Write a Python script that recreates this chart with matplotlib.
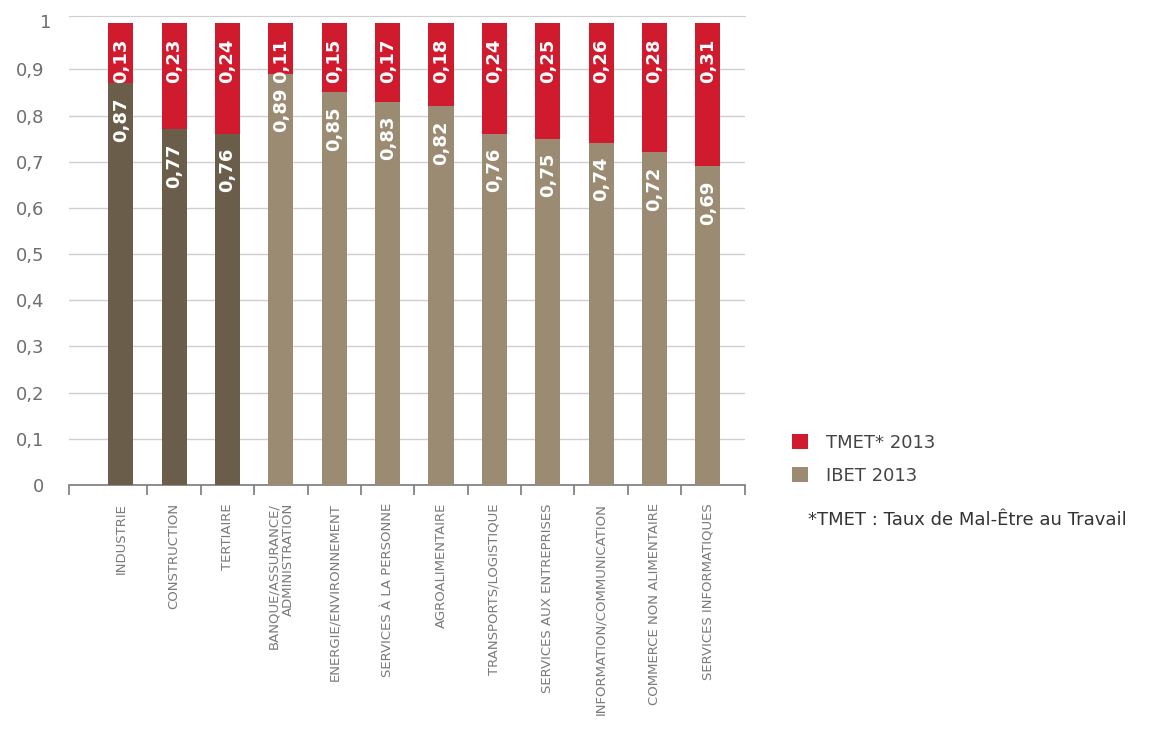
import matplotlib.pyplot as plt
from matplotlib.patches import Patch

# Data
secteurs = [
    "INDUSTRIE",
    "CONSTRUCTION",
    "TERTIAIRE",
    "BANQUE/ASSURANCE/\nADMINISTRATION",
    "ENERGIE/ENVIRONNEMENT",
    "SERVICES À LA PERSONNE",
    "AGROALIMENTAIRE",
    "TRANSPORTS/LOGISTIQUE",
    "SERVICES AUX ENTREPRISES",
    "INFORMATION/COMMUNICATION",
    "COMMERCE NON ALIMENTAIRE",
    "SERVICES INFORMATIQUES",
]
ibet = [0.87, 0.77, 0.76, 0.89, 0.85, 0.83, 0.82, 0.76, 0.75, 0.74, 0.72, 0.69]
tmet = [0.13, 0.23, 0.24, 0.11, 0.15, 0.17, 0.18, 0.24, 0.25, 0.26, 0.28, 0.31]
y_ticks = [0, 0.1, 0.2, 0.3, 0.4, 0.5, 0.6, 0.7, 0.8, 0.9, 1]

red = "#d01a2e"
dark = "#6a5d4a"
light = "#9a8b72"
grey_txt = "#6e6e6e"

fig = plt.figure(figsize=(11.54, 7.36), dpi=100)
ax = fig.add_axes([0.0598, 0.341, 0.586, 0.637])

x = list(range(len(secteurs)))
ibet_colors = [dark] * 3 + [light] * (len(secteurs) - 3)
w = 0.47
ax.bar(x, ibet, width=w, color=ibet_colors, zorder=3)
ax.bar(x, tmet, width=w, bottom=ibet, color=red, zorder=3)

# value labels, rotated, hanging from the top of each segment
for xi, b, t in zip(x, ibet, tmet):
    ax.annotate(f"{b:.2f}".replace(".", ","), (xi, b), xytext=(0, -10),
                textcoords="offset points", rotation=90, ha="center", va="top",
                color="white", fontsize=13, fontweight="bold", zorder=4)
    ax.annotate(f"{t:.2f}".replace(".", ","), (xi, b + t), xytext=(0, -11),
                textcoords="offset points", rotation=90, ha="center", va="top",
                color="white", fontsize=13, fontweight="bold", zorder=4)

ax.set_ylim(0, 1.015)
ax.set_xlim(-0.97, 11.7)

ax.set_yticks(y_ticks[:-1])
ax.set_yticklabels([f"{v:g}".replace(".", ",") for v in y_ticks[:-1]],
                   color=grey_txt, fontsize=13)
ax.tick_params(axis="y", length=0, pad=18)
# the "1" label sits at the bar tops, without a gridline
ax.annotate(f"{y_ticks[-1]:g}", (0, y_ticks[-1]), xycoords=("axes fraction", "data"),
            xytext=(-18, 0), textcoords="offset pixels", ha="right", va="center",
            color=grey_txt, fontsize=13)

ax.grid(axis="y", color="#cfcfcf", linewidth=1, zorder=0)

ax.set_xticks(x)
ax.set_xticklabels(secteurs, rotation=90, ha="center", va="top",
                   multialignment="right", color="#7a7a7a", fontsize=9.5)
ax.tick_params(axis="x", length=0, pad=13)
ax.set_xticks([-0.97] + [i + 0.5 for i in range(len(secteurs) - 1)] + [11.7], minor=True)
ax.tick_params(axis="x", which="minor", length=7, width=1.2, color="#7a7a7a", direction="out")

for s in ["left", "right"]:
    ax.spines[s].set_visible(False)
ax.spines["top"].set_color("#cfcfcf")
ax.spines["bottom"].set_color("#7a7a7a")
ax.spines["bottom"].set_linewidth(1.2)

handles = [Patch(facecolor=red), Patch(facecolor=light)]
fig.legend(handles, ["TMET* 2013", "IBET 2013"], loc="center left",
           bbox_to_anchor=(0.672, 0.376), frameon=False, fontsize=13,
           handlelength=0.9, handleheight=0.9, labelspacing=0.85, handletextpad=1.0,
           labelcolor="#444444")
fig.text(0.7, 0.293, "*TMET : Taux de Mal-Être au Travail", fontsize=13,
         color="#333333", va="center")

fig.savefig("out.png", dpi=100)
